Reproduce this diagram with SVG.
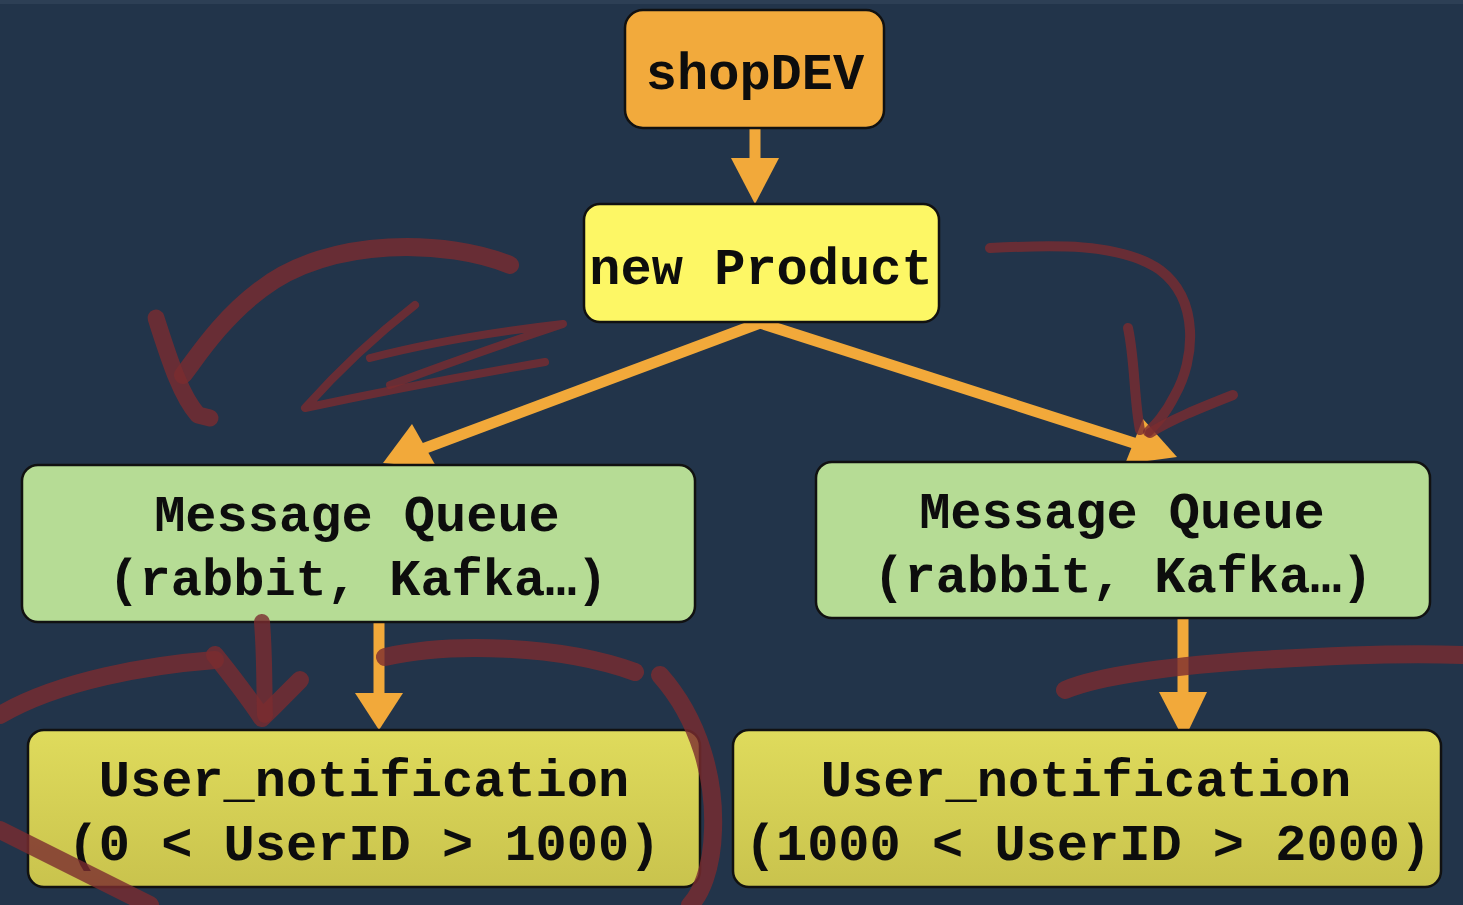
<svg xmlns="http://www.w3.org/2000/svg" width="1463" height="905" viewBox="0 0 1463 905">
<style>
.box{stroke:#111;stroke-width:2.5}
.t{font-family:"Liberation Mono","Courier New",monospace;font-weight:bold;font-size:52px;fill:#0d0d0d;text-anchor:middle}
.c{stroke:#f2a93a;stroke-width:11;fill:none}
.h{fill:#f2a93a}
.r{fill:none;stroke:#7a2c2f;stroke-linecap:round;stroke-linejoin:round;opacity:0.8}
</style>
<defs>
<linearGradient id="un" x1="0" y1="0" x2="0" y2="1">
<stop offset="0" stop-color="#dfdb5c"/>
<stop offset="1" stop-color="#c9c34d"/>
</linearGradient>
</defs>
<rect width="1463" height="905" fill="#22344a"/>
<rect width="1463" height="4" fill="#2d3f55"/>

<g id="connectors">
<line class="c" x1="755" y1="128" x2="755" y2="162"/>
<polygon class="h" points="731,158 779,158 755,204"/>
<line class="c" x1="760" y1="323" x2="420" y2="450"/>
<polygon class="h" points="383,463 412,424 437,468"/>
<line class="c" x1="760" y1="323" x2="1140" y2="445"/>
<polygon class="h" points="1177,457 1143,419 1125,464"/>
<line class="c" x1="379" y1="612" x2="379" y2="696"/>
<polygon class="h" points="355,693 403,693 379,730"/>
<line class="c" x1="1183" y1="612" x2="1183" y2="696"/>
<polygon class="h" points="1159,692 1207,692 1184,740"/>
</g>

<g id="shopDEV">
<rect class="box" x="625" y="10" width="259" height="118" rx="18" fill="#f2aa3c"/>
<text class="t" x="755" y="89">shopDEV</text>
</g>
<g id="newProduct">
<rect class="box" x="584" y="204" width="355" height="118" rx="16" fill="#fdf765"/>
<text class="t" x="761" y="284">new Product</text>
</g>
<g id="mq-left">
<rect class="box" x="22" y="465" width="673" height="157" rx="16" fill="#b6dc95"/>
<text class="t" x="357" y="531">Message Queue</text>
<text class="t" x="358" y="595">(rabbit, Kafka…)</text>
</g>
<g id="mq-right">
<rect class="box" x="816" y="462" width="614" height="156" rx="16" fill="#b6dc95"/>
<text class="t" x="1122" y="528">Message Queue</text>
<text class="t" x="1123" y="592">(rabbit, Kafka…)</text>
</g>
<g id="un-left">
<rect class="box" x="28" y="730" width="672" height="157" rx="16" fill="url(#un)"/>
<text class="t" x="364" y="796">User_notification</text>
<text class="t" x="364" y="860">(0 &lt; UserID &gt; 1000)</text>
</g>
<g id="un-right">
<rect class="box" x="733" y="730" width="708" height="157" rx="16" fill="url(#un)"/>
<text class="t" x="1086" y="796">User_notification</text>
<text class="t" x="1088" y="860">(1000 &lt; UserID &gt; 2000)</text>
</g>

<g id="annotations">
<path class="r" stroke-width="18" d="M510,265 C450,240 330,235 260,290 C220,320 195,360 183,375"/>
<path class="r" stroke-width="17" d="M156,318 C168,355 180,395 198,415 L210,418"/>
<path class="r" stroke-width="8" d="M415,305 C370,340 330,380 305,408 C380,392 470,375 545,362"/>
<path class="r" stroke-width="8" d="M370,358 C440,340 510,330 563,324 C500,345 430,370 390,385"/>
<path class="r" stroke-width="10" d="M990,248 C1050,245 1120,242 1160,270 C1200,300 1195,360 1175,395 C1165,415 1155,425 1148,432"/>
<path class="r" stroke-width="10" d="M1128,328 C1135,360 1134,400 1140,430"/>
<path class="r" stroke-width="10" d="M1233,395 C1200,408 1170,420 1150,433"/>
<path class="r" stroke-width="18" d="M0,715 C60,680 150,665 215,660"/>
<path class="r" stroke-width="18" d="M215,655 C235,680 250,700 262,718 C275,705 290,690 300,680"/>
<path class="r" stroke-width="16" d="M262,622 C265,660 264,690 265,715"/>
<path class="r" stroke-width="18" d="M385,657 C450,642 560,645 635,672"/>
<path class="r" stroke-width="18" d="M660,675 C700,720 715,780 713,830 C712,870 700,895 690,905"/>
<path class="r" stroke-width="18" d="M0,830 C50,855 100,880 150,905"/>
<path class="r" stroke-width="18" d="M1065,690 C1100,675 1180,665 1260,660 C1340,655 1410,653 1463,655"/>
</g>
</svg>
